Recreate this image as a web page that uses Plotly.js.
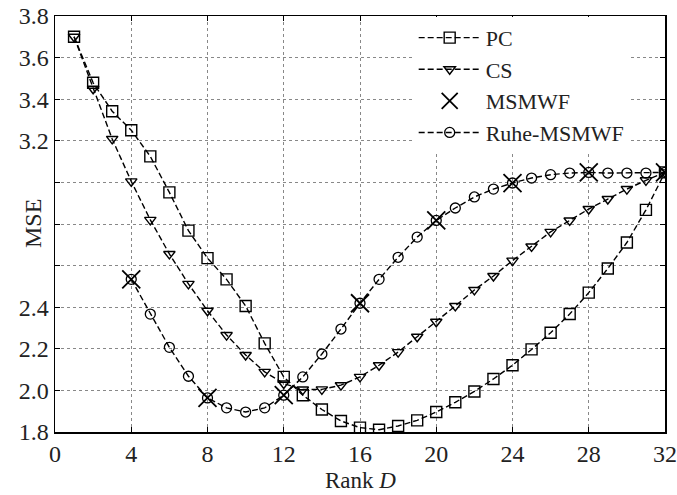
<!DOCTYPE html>
<html>
<head>
<meta charset="utf-8">
<script src="https://cdn.plot.ly/plotly-3.0.1.min.js"></script>
<style>html,body{margin:0;padding:0;background:#fff;}#chart{width:677px;height:495px;}</style>
</head>
<body>
<div id="chart"></div>
<script>
const rankAll = [1,2,3,4,5,6,7,8,9,10,11,12,13,14,15,16,17,18,19,20,21,22,23,24,25,26,27,28,29,30,31,32];
const pcMSE = [3.70,3.479,3.342,3.251,3.125,2.952,2.768,2.636,2.534,2.406,2.226,2.065,1.977,1.908,1.853,1.821,1.811,1.829,1.856,1.896,1.943,1.995,2.055,2.121,2.197,2.277,2.367,2.470,2.586,2.711,2.868,3.048];
const csMSE = [3.70,3.450,3.209,3.005,2.820,2.656,2.512,2.383,2.266,2.170,2.089,2.033,2.004,2.005,2.025,2.065,2.121,2.184,2.258,2.330,2.406,2.483,2.550,2.624,2.692,2.762,2.817,2.872,2.920,2.968,3.010,3.048];
const msmwfRank = [4,8,12,16,20,24,28,32];
const msmwfMSE = [2.534,1.964,1.977,2.419,2.817,2.997,3.048,3.048];
const ruheRank = [4,5,6,7,8,9,10,11,12,13,14,15,16,17,18,19,20,21,22,23,24,25,26,27,28,29,30,31,32];
const ruheMSE = [2.534,2.367,2.207,2.068,1.964,1.916,1.896,1.916,1.977,2.065,2.175,2.295,2.419,2.534,2.640,2.737,2.817,2.877,2.930,2.968,2.997,3.021,3.037,3.045,3.048,3.045,3.045,3.045,3.048];
const xTicks = [0,4,8,12,16,20,24,28,32];
const yTicks = [1.8,2.0,2.2,2.4,2.6,2.8,3.0,3.2,3.4,3.6,3.8];
const yTickText = ["1.8","2.0","2.2","2.4","","","","3.2","3.4","3.6","3.8"];

const FONT = "Liberation Serif";
const TXT = "#222";
const lineStyle = {color:"#000", width:1.4, dash:"6px,3px"};

const traces = [
  {x: rankAll, y: pcMSE, name: "PC", mode: "lines+markers", line: lineStyle,
   marker: {symbol: "square-open", size: 11, color: "#000", line: {width: 1.4}}},
  {x: rankAll, y: csMSE, name: "CS", mode: "lines+markers", line: lineStyle,
   marker: {symbol: "triangle-down-open", size: 10, color: "#000", line: {width: 1.4}}},
  {x: msmwfRank, y: msmwfMSE, name: "MSMWF", mode: "markers",
   marker: {symbol: "x-thin-open", size: 18, color: "#000", line: {width: 1.8, color: "#000"}}},
  {x: ruheRank, y: ruheMSE, name: "Ruhe-MSMWF", mode: "lines+markers", line: lineStyle,
   marker: {symbol: "circle-open", size: 10, color: "#000", line: {width: 1.3}}}
];

const axisCommon = {
  showline: true, linecolor: "#000", linewidth: 1.5, mirror: "allticks",
  ticks: "inside", ticklen: 5, tickcolor: "#000", tickwidth: 1,
  showgrid: true, gridcolor: "#888", gridwidth: 1, griddash: "dot",
  zeroline: false, tickfont: {family: FONT, size: 24, color: TXT}
};

const layout = {
  width: 677, height: 495,
  margin: {l: 55, r: 12, t: 16, b: 63},
  paper_bgcolor: "#fff", plot_bgcolor: "#fff",
  font: {family: FONT, color: TXT},
  xaxis: Object.assign({}, axisCommon, {
    range: [0, 32], tickvals: xTicks, ticktext: xTicks.map(String)
  }),
  yaxis: Object.assign({}, axisCommon, {
    range: [1.8, 3.8], tickvals: yTicks, ticktext: yTickText
  }),
  annotations: [{
    text: "MSE", xref: "paper", yref: "paper", x: -0.036, y: 0.5,
    xanchor: "center", yanchor: "middle", textangle: -90, showarrow: false,
    font: {family: FONT, size: 24, color: TXT}
  }, {
    text: "Rank <i>D</i>", xref: "paper", yref: "paper", x: 0.5, y: -0.0817,
    xanchor: "center", yanchor: "top", showarrow: false,
    font: {family: FONT, size: 23, color: TXT}
  }],
  showlegend: true,
  legend: {x: 0.588, y: 0.998, xanchor: "left", yanchor: "top",
    bgcolor: "#fff", borderwidth: 0, itemwidth: 62,
    font: {family: FONT, size: 22, color: TXT}, tracegroupgap: 0}
};

Plotly.newPlot("chart", traces, layout, {staticPlot: true, displayModeBar: false});
</script>
</body>
</html>
